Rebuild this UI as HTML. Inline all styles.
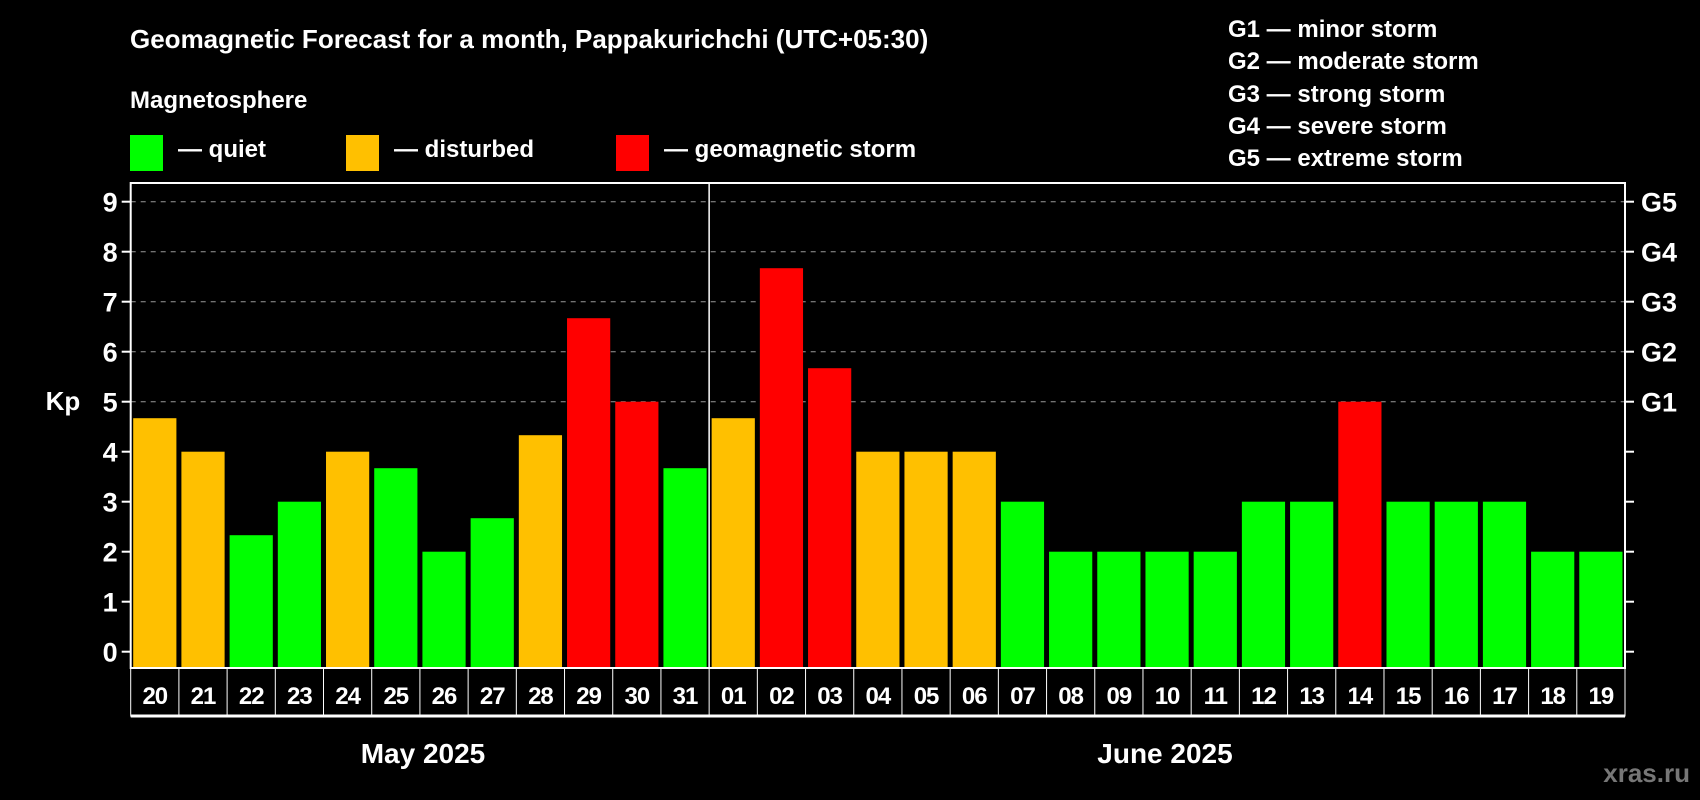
<!DOCTYPE html>
<html><head><meta charset="utf-8"><style>
html,body{margin:0;padding:0;background:#000;}
svg{display:block;font-family:"Liberation Sans",Arial,sans-serif;font-weight:bold;}
</style></head><body>
<svg id="chart" width="1700" height="800" viewBox="0 0 1700 800">
<rect width="1700" height="800" fill="#000"/>
<text x="130" y="48" fill="#fff" font-size="26">Geomagnetic Forecast for a month, Pappakurichchi (UTC+05:30)</text>
<text x="130" y="108" fill="#fff" font-size="24">Magnetosphere</text>
<g><rect x="130" y="135" width="33" height="36" fill="#00ff00"/><text x="178" y="157" fill="#fff" font-size="24">— quiet</text></g>
<g><rect x="346" y="135" width="33" height="36" fill="#ffc000"/><text x="394" y="157" fill="#fff" font-size="24">— disturbed</text></g>
<g><rect x="616" y="135" width="33" height="36" fill="#ff0000"/><text x="664" y="157" fill="#fff" font-size="24">— geomagnetic storm</text></g>
<g fill="#fff" font-size="24">
<text x="1228" y="37">G1 — minor storm</text>
<text x="1228" y="69">G2 — moderate storm</text>
<text x="1228" y="102">G3 — strong storm</text>
<text x="1228" y="134">G4 — severe storm</text>
<text x="1228" y="166">G5 — extreme storm</text>
</g>
<g id="grid"></g><g id="bars"></g><g id="axes"></g>
<text x="63" y="410" fill="#fff" font-size="26" text-anchor="middle">Kp</text>
<text x="423" y="763" fill="#fff" font-size="28" text-anchor="middle">May 2025</text>
<text x="1165" y="763" fill="#fff" font-size="28" text-anchor="middle">June 2025</text>
<text x="1690" y="782" fill="#777" font-size="26" text-anchor="end">xras.ru</text>
</svg>
<script>
const days=["20","21","22","23","24","25","26","27","28","29","30","31","01","02","03","04","05","06","07","08","09","10","11","12","13","14","15","16","17","18","19"].slice(0,30).concat([]);
const dayLabels=["20","21","22","23","24","25","26","27","28","29","30","31","01","02","03","04","05","06","07","08","09","10","11","12","13","14","15","16","17","18","19"];
const kpValues=[4.67,4,2.33,3,4,3.67,2,2.67,4.33,6.67,5,3.67,4.67,7.67,5.67,4,4,4,3,2,2,2,2,3,3,5,3,3,3,2,2];
const yTicks=[0,1,2,3,4,5,6,7,8,9];
const gLabels=["G1","G2","G3","G4","G5"];
const NS="http://www.w3.org/2000/svg";
const L=130.7,R=1625,T=183,B=668,Y0=651.7,U=50;
const n=dayLabels.length, bw=(R-L)/n;
const y=v=>Y0-v*U, x=i=>L+i*bw;
function mk(tag,attrs,parent){const e=document.createElementNS(NS,tag);for(const k in attrs)e.setAttribute(k,attrs[k]);parent.appendChild(e);return e;}
const grid=document.getElementById('grid'),bars=document.getElementById('bars'),axes=document.getElementById('axes');
yTicks.forEach(v=>{
  if(v>=5){const g=mk('line',{x1:L,x2:R,y1:y(v),y2:y(v),stroke:'#999','stroke-width':1,'stroke-dasharray':'5,5'},grid);
  
  }
  const t=mk('line',{x1:L-9,x2:L,y1:y(v),y2:y(v),stroke:'#fff','stroke-width':2},axes);
  
  
  const t2=mk('line',{x1:R,x2:R+9,y1:y(v),y2:y(v),stroke:'#fff','stroke-width':2},axes);
  
  
  const lb=mk('text',{x:L-13,y:y(v)+10,fill:'#fff','font-size':27,'text-anchor':'end'},axes);
  lb.textContent=v;
  
  
  if(v>=5){const gl=mk('text',{x:R+16,y:y(v)+10,fill:'#fff','font-size':27},axes);
  gl.textContent=gLabels[v-5];
  
  }
});
kpValues.forEach((v,i)=>{
  const c=v>=5?'#ff0000':(v>=4?'#ffc000':'#00ff00');
  const r=mk('rect',{x:x(i)+2.5,y:y(v),width:bw-5,height:B-y(v),fill:c},bars);
  
  
  const d=mk('text',{x:x(i)+bw/2,y:704,fill:'#fff','font-size':24,'text-anchor':'middle','letter-spacing':'-1'},axes);
  d.textContent=dayLabels[i];
  
  
  if(i>0){const s=mk('line',{x1:x(i),x2:x(i),y1:B,y2:716,stroke:'#fff','stroke-width':1},axes);
  
  }
});
const fr=mk('rect',{x:L,y:T,width:R-L,height:B-T,fill:'none',stroke:'#fff','stroke-width':2},axes);


const db=mk('rect',{x:L,y:B,width:R-L,height:716-B,fill:'none',stroke:'#fff','stroke-width':1},axes);


const bl=mk('line',{x1:L,x2:R,y1:716,y2:716,stroke:'#fff','stroke-width':3},axes);


const mv=mk('line',{x1:x(12),x2:x(12),y1:T,y2:B,stroke:'#fff','stroke-width':1.5},axes);


</script>
</body></html>
